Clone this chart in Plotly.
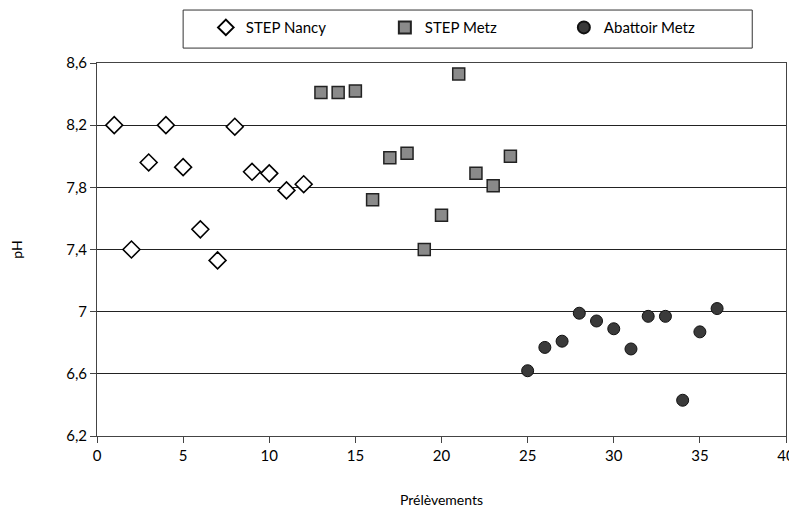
import plotly.graph_objects as go

nancy_x = [1, 2, 3, 4, 5, 6, 7, 8, 9, 10, 11, 12]
nancy_y = [8.20, 7.40, 7.96, 8.20, 7.93, 7.53, 7.33, 8.19, 7.90, 7.89, 7.78, 7.82]

metz_x = [13, 14, 15, 16, 17, 18, 19, 20, 21, 22, 23, 24]
metz_y = [8.41, 8.41, 8.42, 7.72, 7.99, 8.02, 7.40, 7.62, 8.53, 7.89, 7.81, 8.00]

abattoir_x = [25, 26, 27, 28, 29, 30, 31, 32, 33, 34, 35, 36]
abattoir_y = [6.62, 6.77, 6.81, 6.99, 6.94, 6.89, 6.76, 6.97, 6.97, 6.43, 6.87, 7.02]

y_ticks = [6.2, 6.6, 7.0, 7.4, 7.8, 8.2, 8.6]
y_ticktext = ["6,2", "6,6", "7", "7,4", "7,8", "8,2", "8,6"]
x_ticks = [0, 5, 10, 15, 20, 25, 30, 35, 40]

FONT = "Lato, 'Open Sans', sans-serif"

fig = go.Figure()
fig.add_trace(go.Scatter(
    x=nancy_x, y=nancy_y, mode="markers", name="STEP Nancy",
    marker=dict(symbol="diamond", size=13, color="white",
                line=dict(color="black", width=1.6)),
))
fig.add_trace(go.Scatter(
    x=metz_x, y=metz_y, mode="markers", name="STEP Metz",
    marker=dict(symbol="square", size=12, color="#8a8a8a",
                line=dict(color="#222222", width=1.5)),
))
fig.add_trace(go.Scatter(
    x=abattoir_x, y=abattoir_y, mode="markers", name="Abattoir Metz",
    marker=dict(symbol="circle", size=12, color="#3a3a3a",
                line=dict(color="#111111", width=1)),
))

# legend frame
fig.add_shape(type="rect", xref="paper", yref="paper",
              x0=0.125, x1=0.951, y0=1.040, y1=1.142,
              line=dict(color="#333333", width=1), fillcolor="white", layer="below")

# page body has an 8px margin, so the figure is sized to fit the 797x513 window
fig.update_layout(
    width=789, height=505,
    margin=dict(l=89, r=11, t=55, b=77, autoexpand=False),
    paper_bgcolor="white", plot_bgcolor="white",
    font=dict(family=FONT, size=15, color="black"),
    showlegend=True,
    legend=dict(
        orientation="h", x=0.158, xanchor="left", y=1.139, yanchor="top",
        borderwidth=0, bgcolor="rgba(0,0,0,0)",
        entrywidth=134, entrywidthmode="pixels",
        font=dict(size=15, family=FONT),
        itemsizing="constant",
    ),
    xaxis=dict(
        range=[0, 40], tickvals=x_ticks, ticks="outside", ticklen=6,
        tickcolor="#444", showgrid=False, zeroline=False,
        showline=True, linecolor="#444", linewidth=1, mirror=True,
        tickfont=dict(size=15),
        title=dict(text="Prélèvements", font=dict(size=14), standoff=32),
    ),
    yaxis=dict(
        range=[6.2, 8.6], tickvals=y_ticks, ticktext=y_ticktext,
        ticks="outside", ticklen=6, tickcolor="#444",
        showgrid=True, gridcolor="#222222", gridwidth=1, zeroline=False,
        showline=True, linecolor="#444", linewidth=1, mirror=True,
        tickfont=dict(size=15),
        title=dict(text="pH", font=dict(size=14), standoff=40),
    ),
)

fig.write_html("out.html")
